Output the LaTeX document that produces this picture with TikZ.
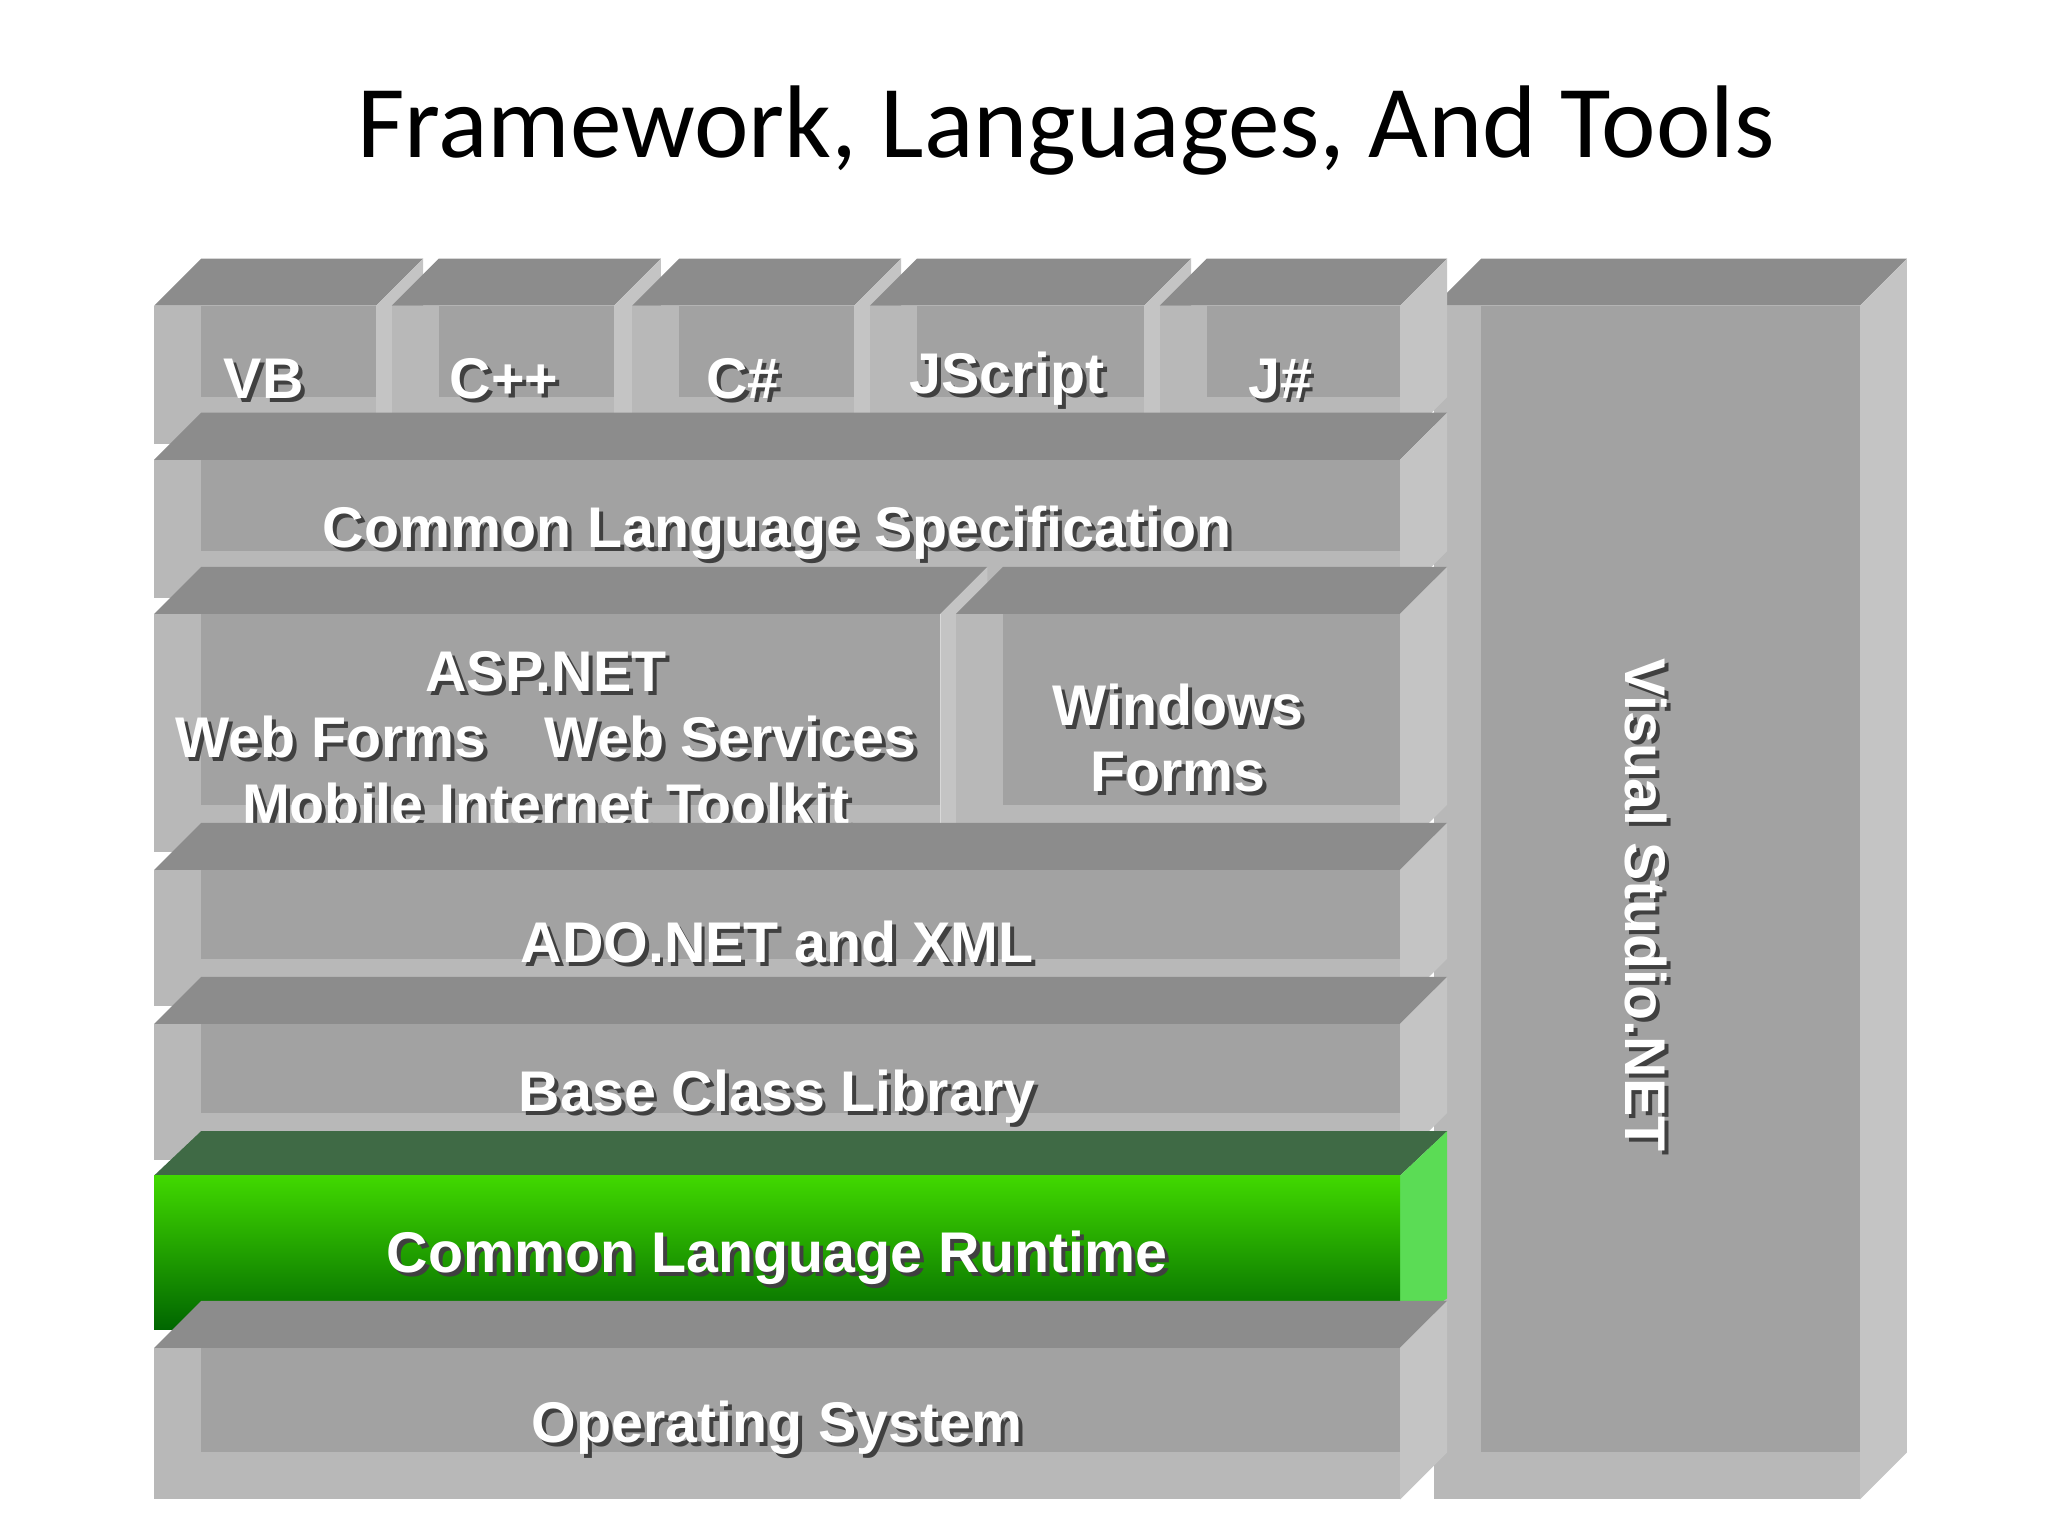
\documentclass[tikz,border=0pt]{standalone}
\usepackage{fontspec}
\setmainfont{Liberation Sans}
\newfontfamily\titlefont{Carlito}
\begin{document}
\begin{tikzpicture}[x=0.02cm,y=-0.02cm,
  lbl/.style={text=white,font=\bfseries\fontsize{25}{29}\selectfont,align=center,inner sep=0},
  shd/.style={text=black!75,font=\bfseries\fontsize{25}{29}\selectfont,align=center,inner sep=0}]
\definecolor{gtop}{HTML}{8C8C8C}
\definecolor{gfront}{HTML}{B8B8B8}
\definecolor{ginner}{HTML}{A2A2A2}
\definecolor{gside}{HTML}{C4C4C4}
\definecolor{ntop}{HTML}{3F6A45}
\definecolor{nside}{HTML}{5BDC55}
\newcommand\dcube[5]{%
  \fill[gtop] (#1,#4) -- ({#1+36},#3) -- ({#2+36},#3) -- (#2,#4) -- cycle;
  \fill[gside] (#2,#4) -- ({#2+36},#3) -- ({#2+36},{#5-36}) -- (#2,#5) -- cycle;
  \fill[gfront] (#1,#4) rectangle (#2,#5);
  \fill[ginner] ({#1+36},#4) rectangle (#2,{#5-36});
}
\newcommand\lab[3]{%
  \node[shd] at ({#1+3},{#2+3}) {#3};
  \node[lbl] (#1-#2) at (#1,#2) {#3};}
\useasboundingbox (0,0) rectangle (1568,1176);
\fill[white] (0,0) rectangle (1568,1176);
\node[font=\titlefont\fontsize{45}{50}\selectfont] (title) at (816,100) {Framework, Languages, And Tools};
% Visual Studio
\dcube{1098}{1424}{198}{234}{1148}
% languages
\dcube{118}{288}{198}{234}{340}
\dcube{300}{470}{198}{234}{340}
\dcube{484}{654}{198}{234}{340}
\dcube{666}{876}{198}{234}{340}
\dcube{888}{1072}{198}{234}{340}
\lab{202}{290}{VB}
\lab{386}{290}{C++}
\lab{569}{290}{C\#}
\lab{771}{290}{JScript}
\lab{980}{290}{J\#}
\dcube{118}{1072}{316}{352}{458}
\lab{595}{408}{Common Language Specification}
\dcube{118}{720}{434}{470}{652}
\dcube{732}{1072}{434}{470}{652}
\lab{418}{565}{ASP.NET\\Web Forms\quad Web Services\\Mobile Internet Toolkit}
\lab{902}{565}{Windows\\Forms}
\dcube{118}{1072}{630}{666}{770}
\lab{595}{721}{ADO.NET and XML}
\dcube{118}{1072}{748}{784}{888}
\lab{595}{840}{Base Class Library}
% CLR
\fill[ntop] (118,900) -- (154,866) -- (1108,866) -- (1072,900) -- cycle;
\fill[nside] (1072,900) -- (1108,866) -- (1108,994) -- (1072,1018) -- cycle;
\shade[top color=green!60!lime!85!black, bottom color=green!40!black] (118,900) rectangle (1072,1018);
\lab{595}{963}{Common Language Runtime}
\dcube{118}{1072}{996}{1032}{1148}
\lab{595}{1093}{Operating System}
\node[shd,rotate=-90] at (1263,696) {Visual Studio.NET};
\node[lbl,rotate=-90] (vs) at (1260,693) {Visual Studio.NET};
\end{tikzpicture}
\end{document}
